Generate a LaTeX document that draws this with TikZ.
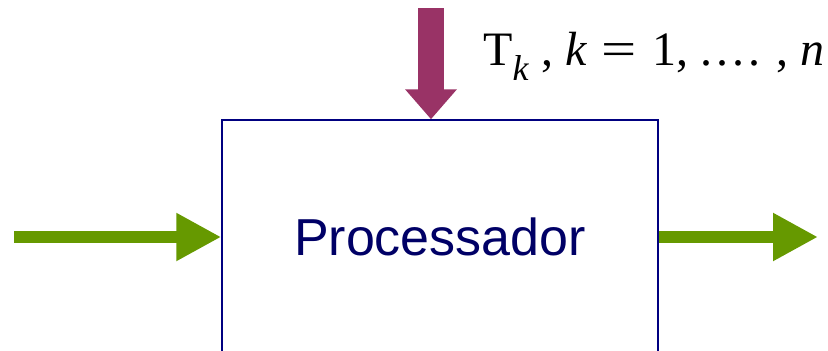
\documentclass[tikz,border=0pt]{standalone}
\usepackage{fontspec}
\usepackage{graphicx}
\setmainfont{Liberation Serif}
\newfontfamily\arialfont{Liberation Sans}
\usetikzlibrary{arrows.meta}
\definecolor{navyline}{RGB}{0,0,128}
\definecolor{navytext}{RGB}{0,0,102}
\definecolor{flowgreen}{RGB}{102,153,0}
\definecolor{ctrlpurple}{RGB}{153,51,102}
\tikzset{
  procbox/.style={draw=navyline, line width=1.5pt, minimum width=436pt, minimum height=234pt,
    font=\arialfont\fontsize{52}{60}\selectfont, text=navytext},
  flow/.style={flowgreen, line width=12pt, -{Triangle[length=45pt, width=45pt]}},
  ctrl/.style={ctrlpurple, line width=26pt, -{Triangle[length=30pt, width=50pt]}}
}
\begin{document}
\begin{tikzpicture}[x=1pt, y=-1pt]
\clip (0,0) rectangle (828,351);

\node[procbox] (proc) at (440,237) {Processador};

\coordinate (in) at (14,237);
\coordinate (out) at (818,237);
\coordinate (tin) at (431,8);

\draw[flow] (in) -- (proc.west);
\draw[flow] (proc.east) -- (out);
\draw[ctrl] (tin) -- (tin |- proc.north);

\node[anchor=base west, font=\fontsize{48}{56}\selectfont, inner sep=0pt] (tlabel) at (483,65)
  {T\raisebox{-15pt}{\fontsize{36}{40}\selectfont\textit{k}} , \textit{k}\hspace{0.3em}\scalebox{1.3}[1]{=}\hspace{0.33em}1, .\kern4pt.\kern4pt.\kern4pt. , \textit{n}};
\end{tikzpicture}
\end{document}
